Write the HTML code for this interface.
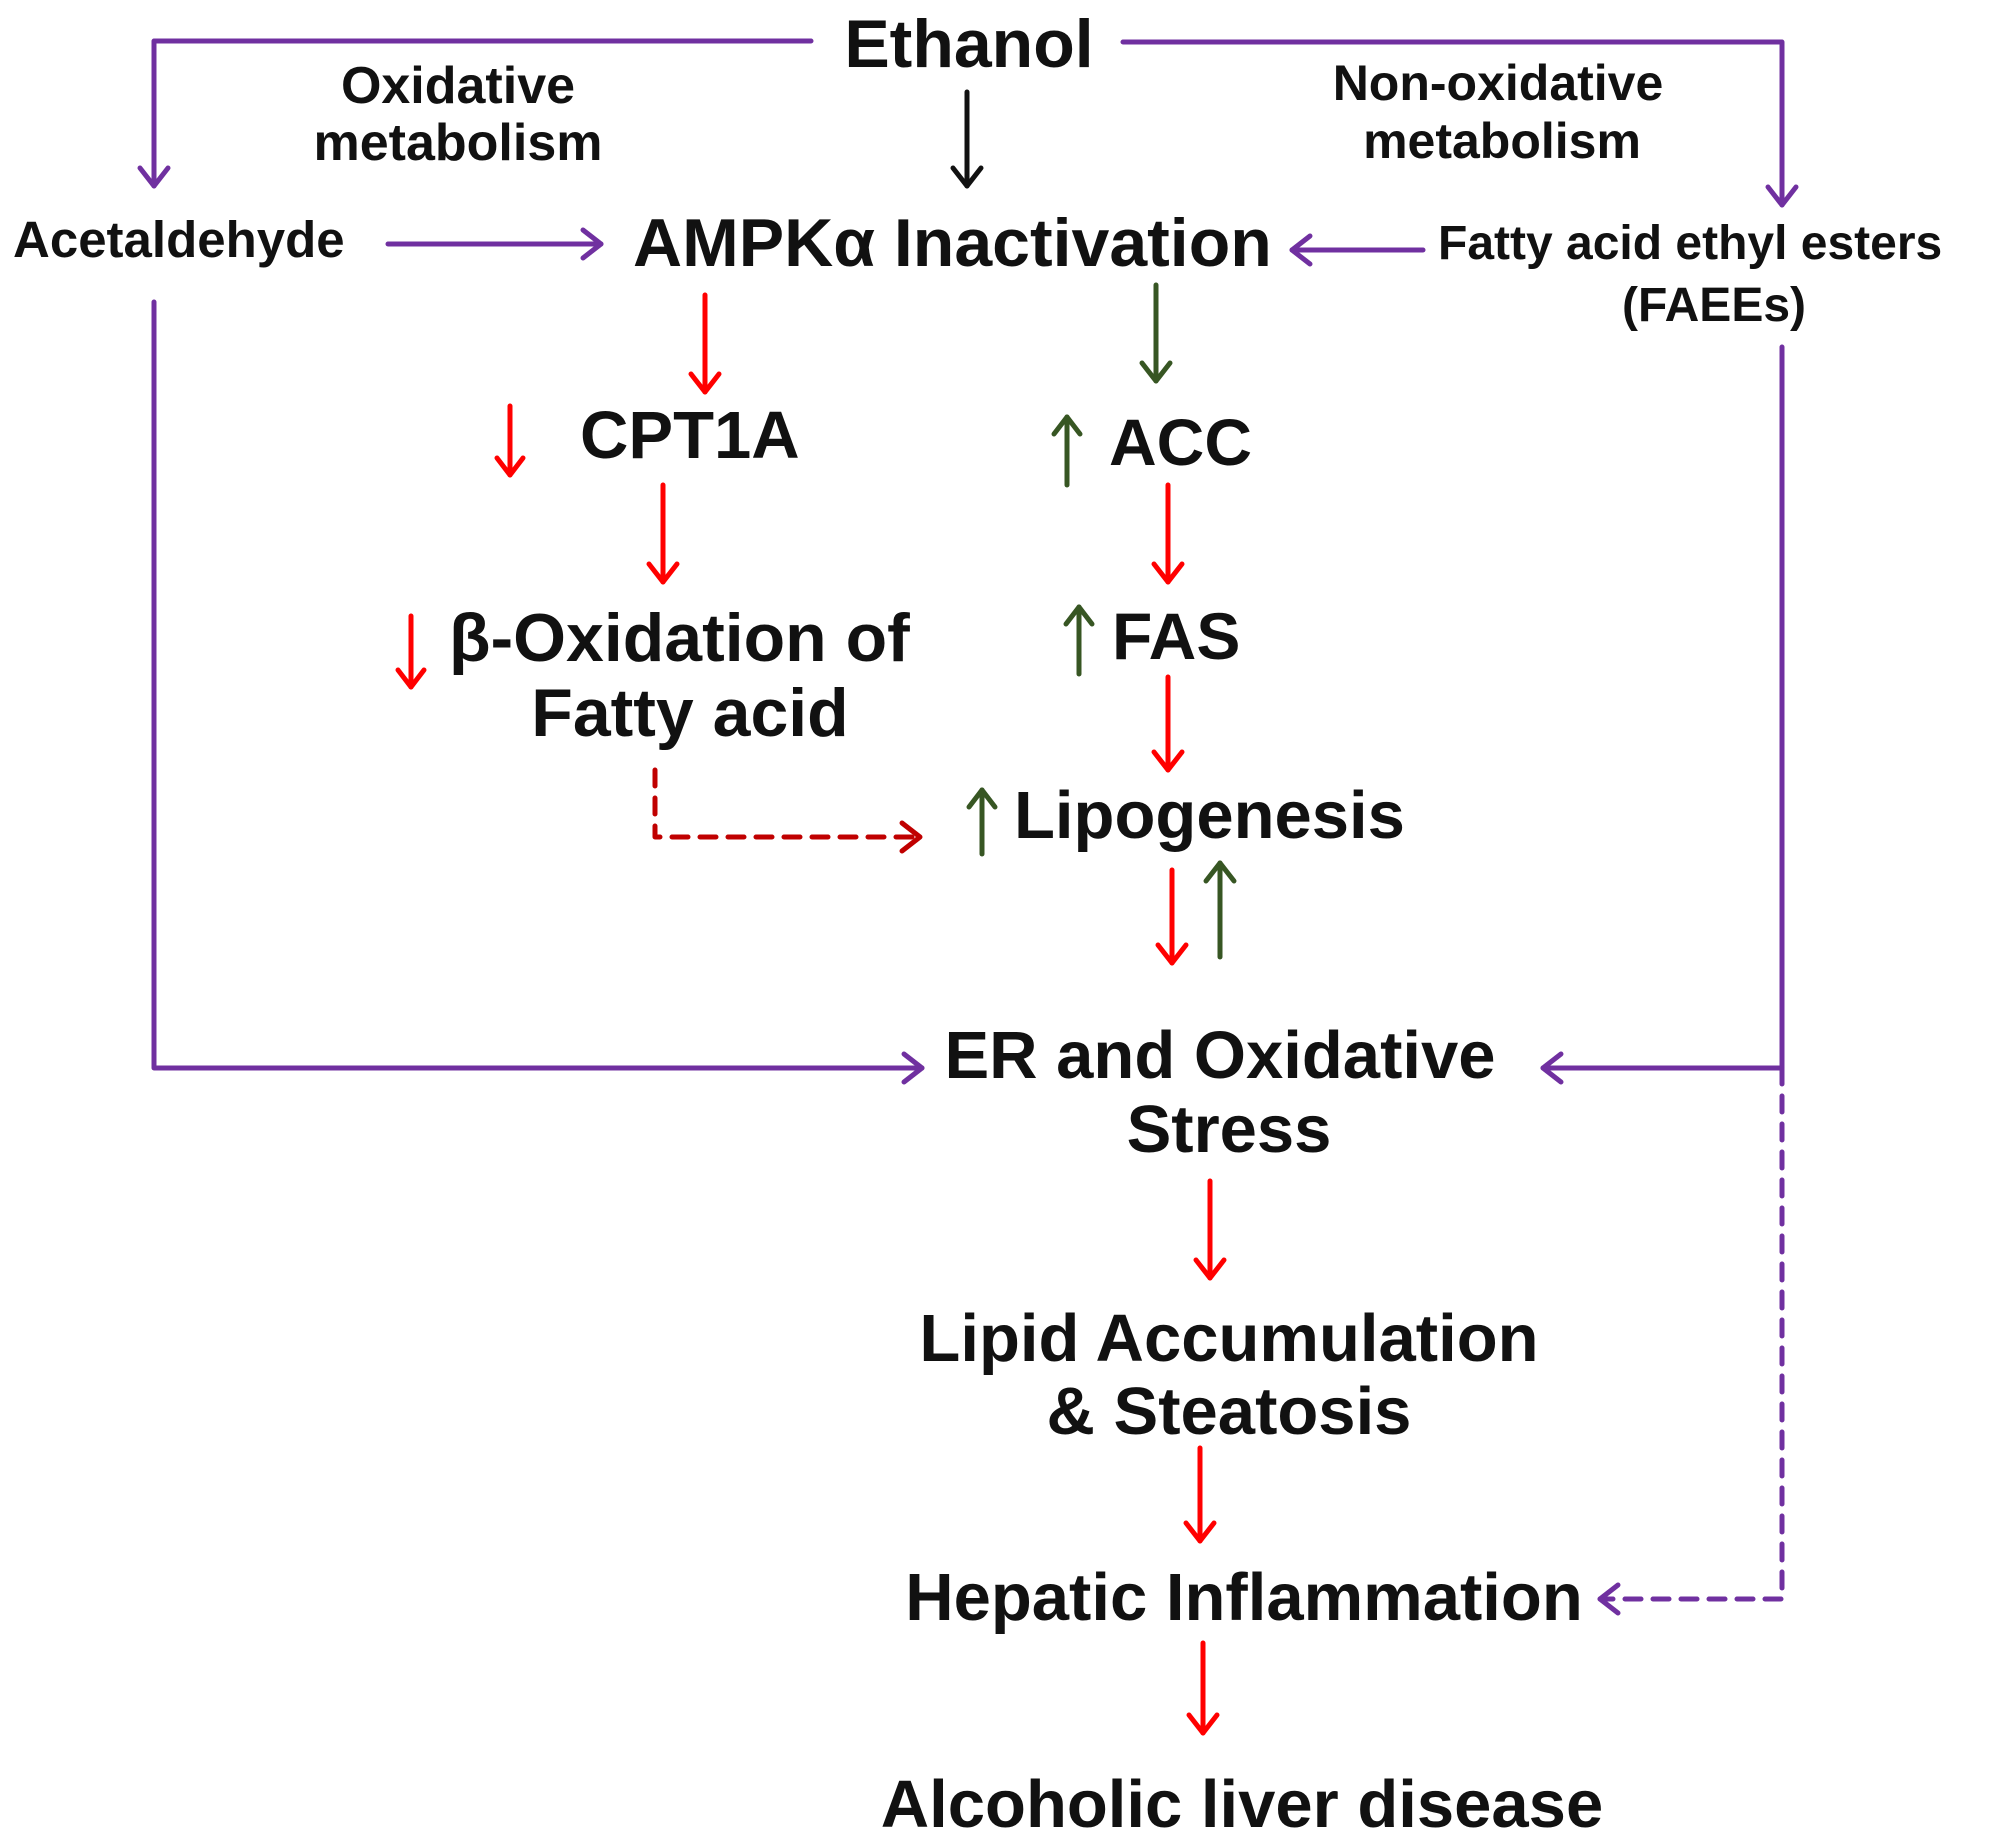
<!DOCTYPE html>
<html><head><meta charset="utf-8"><style>
html,body{margin:0;padding:0;background:#fff;}
svg{display:block;}
text{font-family:"Liberation Sans",Arial,sans-serif;font-weight:bold;fill:#111;}
</style></head><body>
<svg width="2007" height="1848" viewBox="0 0 2007 1848" xmlns="http://www.w3.org/2000/svg">
<g fill="none" stroke-linecap="round" stroke-linejoin="round">
<!-- purple solid -->
<g stroke="#7030a0" stroke-width="5">
<polyline points="811,41 154,41 154,186"/><polyline points="140,168 154,186 168,168"/>
<polyline points="1123,42 1782,42 1782,205"/><polyline points="1768,187 1782,205 1796,187"/>
<line x1="388" y1="244" x2="601" y2="244"/><polyline points="583,230 601,244 583,258"/>
<line x1="1423" y1="250" x2="1292" y2="250"/><polyline points="1310,236 1292,250 1310,264"/>
<polyline points="154,302 154,1068 922,1068"/><polyline points="904,1054 922,1068 904,1082"/>
<polyline points="1782,347 1782,1068 1543,1068"/><polyline points="1561,1054 1543,1068 1561,1082"/>
</g>
<g stroke="#7030a0" stroke-width="5" stroke-dasharray="16,12">
<polyline points="1782,1068 1782,1599 1600,1599"/>
</g>
<polyline stroke="#7030a0" stroke-width="5" points="1618,1585 1600,1599 1618,1613"/>
<!-- black -->
<g stroke="#111" stroke-width="5"><line x1="967" y1="92" x2="967" y2="186"/><polyline points="953,168 967,186 981,168"/></g>
<!-- red -->
<g stroke="#ff0000" stroke-width="5">
<line x1="705" y1="295" x2="705" y2="392"/><polyline points="691,374 705,392 719,374"/>
<line x1="510" y1="406" x2="510" y2="475"/><polyline points="497,458 510,475 523,458"/>
<line x1="663" y1="485" x2="663" y2="582"/><polyline points="649,564 663,582 677,564"/>
<line x1="411" y1="616" x2="411" y2="687"/><polyline points="398,670 411,687 424,670"/>
<line x1="1168" y1="485" x2="1168" y2="582"/><polyline points="1154,564 1168,582 1182,564"/>
<line x1="1168" y1="677" x2="1168" y2="770"/><polyline points="1154,752 1168,770 1182,752"/>
<line x1="1172" y1="870" x2="1172" y2="963"/><polyline points="1158,945 1172,963 1186,945"/>
<line x1="1210" y1="1181" x2="1210" y2="1278"/><polyline points="1196,1260 1210,1278 1224,1260"/>
<line x1="1200" y1="1448" x2="1200" y2="1541"/><polyline points="1186,1523 1200,1541 1214,1523"/>
<line x1="1203" y1="1643" x2="1203" y2="1733"/><polyline points="1189,1715 1203,1733 1217,1715"/>
</g>
<g stroke="#c00000" stroke-width="5" stroke-dasharray="16,12"><polyline points="655,770 655,837 918,837"/></g>
<polyline stroke="#c00000" stroke-width="5" points="902,823 920,837 902,851"/>
<!-- green -->
<g stroke="#375623" stroke-width="5">
<line x1="1156" y1="285" x2="1156" y2="381"/><polyline points="1142,363 1156,381 1170,363"/>
<line x1="1067" y1="485" x2="1067" y2="417"/><polyline points="1054,434 1067,417 1080,434"/>
<line x1="1079" y1="674" x2="1079" y2="607"/><polyline points="1066,624 1079,607 1092,624"/>
<line x1="982" y1="854" x2="982" y2="790"/><polyline points="969,807 982,790 995,807"/>
<line x1="1220" y1="957" x2="1220" y2="863"/><polyline points="1206,881 1220,863 1234,881"/>
</g>
</g>
<text x="969" y="67" font-size="68" text-anchor="middle">Ethanol</text>
<text x="458" y="103" font-size="52" text-anchor="middle">Oxidative</text>
<text x="458" y="160" font-size="52" text-anchor="middle">metabolism</text>
<text x="1498" y="100" font-size="50" text-anchor="middle">Non-oxidative</text>
<text x="1502" y="158" font-size="50" text-anchor="middle">metabolism</text>
<text x="13" y="257" font-size="51">Acetaldehyde</text>
<text x="633" y="266" font-size="68">AMPKα Inactivation</text>
<text x="1438" y="259" font-size="48">Fatty acid ethyl esters</text>
<text x="1714" y="321" font-size="48" text-anchor="middle">(FAEEs)</text>
<text x="580" y="458" font-size="67">CPT1A</text>
<text x="1109" y="465" font-size="66">ACC</text>
<text x="449" y="661" font-size="68">β-Oxidation of</text>
<text x="690" y="736" font-size="68" text-anchor="middle">Fatty acid</text>
<text x="1112" y="659" font-size="66">FAS</text>
<text x="1014" y="838" font-size="67">Lipogenesis</text>
<text x="1220" y="1078" font-size="67" text-anchor="middle">ER and Oxidative</text>
<text x="1229" y="1152" font-size="67" text-anchor="middle">Stress</text>
<text x="1229" y="1361" font-size="67" text-anchor="middle">Lipid Accumulation</text>
<text x="1229" y="1434" font-size="67" text-anchor="middle">&amp; Steatosis</text>
<text x="1244" y="1620" font-size="67" text-anchor="middle">Hepatic Inflammation</text>
<text x="1242" y="1827" font-size="67" text-anchor="middle">Alcoholic liver disease</text>
</svg>
</body></html>
